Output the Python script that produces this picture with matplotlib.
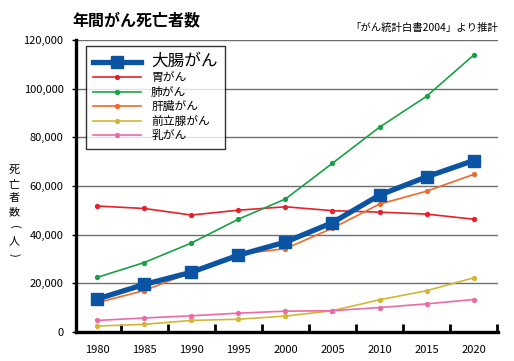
import numpy as np
import matplotlib
matplotlib.use("Agg")
import matplotlib.pyplot as plt
from matplotlib.ticker import FuncFormatter

plt.rcParams['font.family'] = ['Noto Sans CJK JP', 'DejaVu Sans']

years = ['1980', '1985', '1990', '1995', '2000', '2005', '2010', '2015', '2020']
colorectal = [13600, 19600, 24600, 31600, 37000, 45000, 56300, 63800, 70500]
stomach = [51800, 50800, 48100, 50100, 51500, 49900, 49300, 48500, 46400]
lung = [22500, 28600, 36600, 46400, 54700, 69400, 84200, 96900, 113800]
liver = [12100, 17100, 24500, 32000, 34300, 42700, 52600, 57900, 64800]
prostate = [2500, 3200, 4800, 5300, 6600, 8800, 13300, 17000, 22300]
breast = [4800, 5800, 6700, 7800, 8600, 8800, 10100, 11600, 13400]
ylabel_chars = ['死', '亡', '者', '数', '(', '人', ')']

x = np.arange(len(years))

fig = plt.figure(figsize=(5.14, 3.61), dpi=100)
ax = fig.add_axes([0.148, 0.080, 0.821, 0.809])

thin = dict(lw=1.2, marker='o', ms=2.8)
ax.plot(x, colorectal, color='#0b54a4', lw=3.8, marker='s', ms=8, label='大腸がん', zorder=5)
ax.plot(x, stomach, color='#e8202a', label='胃がん', **thin)
ax.plot(x, lung, color='#1ba046', label='肺がん', **thin)
ax.plot(x, liver, color='#f06a2a', label='肝臓がん', **thin)
ax.plot(x, prostate, color='#d2b634', label='前立腺がん', **thin)
ax.plot(x, breast, color='#ec6aa6', label='乳がん', **thin)

ax.set_xlim(-0.45, 8.52)
ax.set_ylim(0, 120000)
ax.set_yticks(np.arange(0, 120001, 20000))
ax.yaxis.set_major_formatter(FuncFormatter(lambda v, p: f'{int(v):,}'))
ax.grid(axis='y', color='#6e6e6e', lw=1)
ax.set_axisbelow(True)

ax.set_xticks(x)
ax.set_xticklabels(years)
ax.set_xticks(np.arange(0.5, 9, 1), minor=True)
ax.tick_params(axis='x', which='major', length=0, pad=9, labelsize=8)
ax.tick_params(axis='x', which='minor', direction='in', length=6, width=2, color='black')
ax.tick_params(axis='y', length=3, width=1, labelsize=8, pad=6)

for s in ['top', 'right']:
    ax.spines[s].set_visible(False)
for s in ['left', 'bottom']:
    ax.spines[s].set_linewidth(2.4)
    ax.spines[s].set_color('black')

leg = ax.legend(loc='upper left', bbox_to_anchor=(0.024, 0.98), borderaxespad=0,
                frameon=True, fancybox=False, edgecolor='black', fontsize=8.5,
                handlelength=4.0, labelspacing=0.12, borderpad=0.6, handletextpad=0.9)
leg.get_frame().set_linewidth(1)
leg.get_texts()[0].set_fontsize(12)

fig.text(0.14, 0.945, '年間がん死亡者数', fontsize=11.5, fontweight='bold', ha='left', va='center')
fig.text(0.968, 0.922, '「がん統計白書2004」より推計', fontsize=7.5, ha='right', va='center')

# vertical y-axis title, one character at a time
for i, ch in enumerate(ylabel_chars):
    rot = -90 if ch in '()' else 0
    fig.text(0.028, 1 - (170 + i * 14.2) / 361, ch, fontsize=8, ha='center', va='center',
             rotation=rot, rotation_mode='anchor')

fig.savefig('out.png', dpi=100)
